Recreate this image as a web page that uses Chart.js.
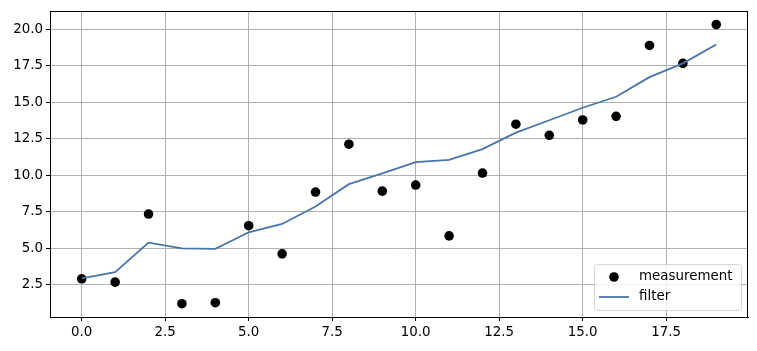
<!DOCTYPE html>
<html>
<head>
<meta charset="utf-8">
<script src="https://cdn.jsdelivr.net/npm/chart.js@4/dist/chart.umd.min.js"></script>
<style>
  html, body { margin: 0; padding: 0; background: #fff; }
  #wrap { width: 757px; height: 351px; }
</style>
</head>
<body>
<div id="wrap"><canvas id="c" width="757" height="351"></canvas></div>
<script>
const steps = [0,1,2,3,4,5,6,7,8,9,10,11,12,13,14,15,16,17,18,19];
const measurement = [2.89,2.66,7.33,1.18,1.25,6.53,4.60,8.84,12.12,8.90,9.32,5.83,10.14,13.49,12.73,13.78,14.03,18.89,17.66,20.32];
const filterVals = [2.92,3.34,5.37,4.98,4.94,6.08,6.65,7.85,9.38,10.12,10.89,11.05,11.78,12.91,13.76,14.62,15.37,16.72,17.66,18.95];
const xTicks = [0,2.5,5,7.5,10,12.5,15,17.5];
const yTicks = [2.5,5,7.5,10,12.5,15,17.5,20];
const seriesLabels = ['measurement','filter'];

const FONT = 'DejaVu Sans';
const FS = 13.4;

const frame = {
  id: 'frame',
  afterDraw(chart) {
    const {ctx, chartArea: a} = chart;
    ctx.save();
    ctx.strokeStyle = '#000';
    ctx.lineWidth = 1;
    ctx.strokeRect(Math.round(a.left)+0.5, Math.round(a.top)+0.5, Math.round(a.right - a.left)-1, Math.round(a.bottom - a.top));
    // legend
    const bx = 594, by = 264, bw = 147, bh = 46, r = 3;
    ctx.globalAlpha = 0.8;
    ctx.fillStyle = '#fff';
    ctx.beginPath();
    ctx.roundRect(bx+0.5, by+0.5, bw, bh, r);
    ctx.fill();
    ctx.globalAlpha = 1;
    ctx.strokeStyle = '#d6d6d6';
    ctx.stroke();
    const ds = chart.data.datasets;
    ctx.font = FS + 'px "' + FONT + '"';
    ctx.textBaseline = 'middle';
    ctx.fillStyle = '#000';
    ctx.beginPath();
    ctx.arc(614, 277, ds[0].pointRadius, 0, Math.PI*2);
    ctx.fillStyle = ds[0].pointBackgroundColor;
    ctx.fill();
    ctx.fillStyle = '#000';
    ctx.fillText(ds[0].label, 639, 277);
    ctx.beginPath();
    ctx.moveTo(599, 297); ctx.lineTo(629, 297);
    ctx.strokeStyle = ds[1].borderColor;
    ctx.lineWidth = ds[1].borderWidth;
    ctx.stroke();
    ctx.fillText(ds[1].label, 639, 297);
    ctx.restore();
  }
};

new Chart(document.getElementById('c'), {
  type: 'line',
  data: {
    datasets: [
      {
        label: seriesLabels[0],
        data: steps.map((x,i) => ({x, y: measurement[i]})),
        showLine: false,
        pointRadius: 4.8,
        pointBackgroundColor: '#000',
        pointBorderColor: '#000',
        pointBorderWidth: 0,
        order: 1
      },
      {
        label: seriesLabels[1],
        data: steps.map((x,i) => ({x, y: filterVals[i]})),
        borderColor: '#4a74a8',
        borderWidth: 1.8,
        pointRadius: 0,
        tension: 0,
        fill: false,
        order: 0
      }
    ]
  },
  options: {
    responsive: false,
    animation: false,
    layout: { padding: { left: 0, right: 9, top: 9, bottom: 0 } },
    plugins: { legend: { display: false }, tooltip: { enabled: false } },
    scales: {
      x: {
        type: 'linear',
        min: -0.95, max: 19.95,
        afterBuildTicks: s => { s.ticks = xTicks.map(v => ({value: v})); },
        afterFit: s => { s.height = 34; },
        ticks: { callback: v => Number(v).toFixed(1), color: '#000', font: { family: FONT, size: FS }, padding: 3, maxRotation: 0 },
        grid: { color: '#b0b0b0', lineWidth: 1, tickColor: '#000', tickLength: 4 },
        border: { color: '#000', width: 1 }
      },
      y: {
        type: 'linear',
        min: 0.27, max: 21.25,
        afterBuildTicks: s => { s.ticks = yTicks.map(v => ({value: v})); },
        afterFit: s => { s.width = 50; },
        ticks: { callback: v => Number(v).toFixed(1), color: '#000', font: { family: FONT, size: FS }, padding: 3 },
        grid: { color: '#b0b0b0', lineWidth: 1, tickColor: '#000', tickLength: 4 },
        border: { color: '#000', width: 1 }
      }
    }
  },
  plugins: [frame]
});
</script>
</body>
</html>
